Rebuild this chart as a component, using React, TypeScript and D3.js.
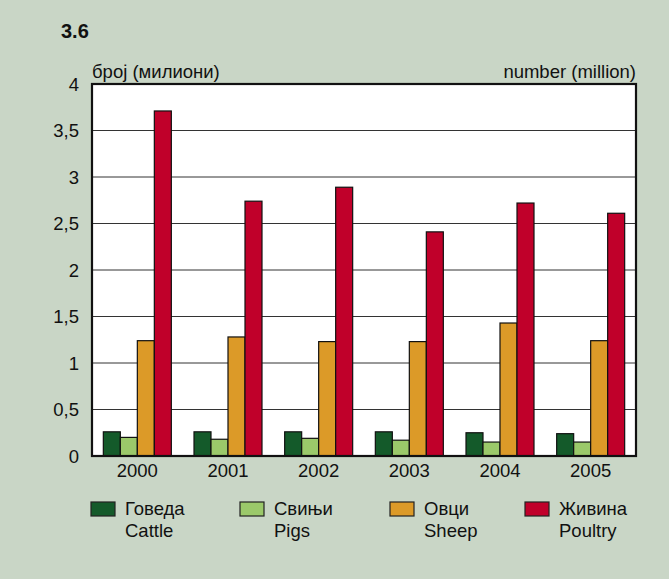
import React from "react";
import * as d3 from "d3";

const years = ["2000", "2001", "2002", "2003", "2004", "2005"];
const cattle = [0.26, 0.26, 0.26, 0.26, 0.25, 0.24];
const pigs = [0.2, 0.18, 0.19, 0.17, 0.15, 0.15];
const sheep = [1.24, 1.28, 1.23, 1.23, 1.43, 1.24];
const poultry = [3.71, 2.74, 2.89, 2.41, 2.72, 2.61];
const seriesNames = [
  ["Говеда", "Cattle"],
  ["Свињи", "Pigs"],
  ["Овци", "Sheep"],
  ["Живина", "Poultry"],
];
const colors = ["#145a2a", "#9bc96a", "#dc9a28", "#c0002a"];
const yTicks = [0, 0.5, 1, 1.5, 2, 2.5, 3, 3.5, 4];

export default function App() {
  const W = 669, H = 579;
  const left = 92, right = 636, top = 84, bottom = 456;
  const series = [cattle, pigs, sheep, poultry];
  const x0 = d3.scaleBand().domain(years).range([left, right]).paddingInner(0.25).paddingOuter(0.125);
  const x1 = d3.scaleBand().domain(["0", "1", "2", "3"]).range([0, x0.bandwidth()]);
  const y = d3.scaleLinear().domain([0, 4]).range([bottom, top]);
  const font = "'Liberation Sans', Arial, sans-serif";
  const legendX = [91, 240, 390, 525];
  const fs = 18.5;
  return (
    <div style={{ position: "fixed", left: 0, top: 0 }}>
      <svg width={W} height={H} style={{ display: "block", fontFamily: font }}>
        <rect x={0} y={0} width={W} height={H} fill="#c9d6c6" />
        <text x={61} y={38} fontSize={20} fontWeight="bold" fill="#111">3.6</text>
        <text x={left} y={78} fontSize={fs} fill="#111">број (милиони)</text>
        <text x={right} y={78} fontSize={fs} fill="#111" textAnchor="end">number (million)</text>
        <rect x={left} y={top} width={right - left} height={bottom - top} fill="#fff" />
        {yTicks.map((t) => (
          <g key={t}>
            {t > 0 && t < 4 && (
              <line x1={left} x2={right} y1={y(t)} y2={y(t)} stroke="#333" strokeWidth={1} />
            )}
            <text x={79} y={y(t) + 6.5} fontSize={fs} textAnchor="end" fill="#111">
              {String(t).replace(".", ",")}
            </text>
          </g>
        ))}
        {years.map((yr, i) => (
          <g key={yr}>
            {series.map((s, j) => (
              <rect
                key={j}
                x={(x0(yr) as number) + (x1(String(j)) as number)}
                y={y(s[i])}
                width={x1.bandwidth()}
                height={bottom - y(s[i])}
                fill={colors[j]}
                stroke="#111"
                strokeWidth={1.2}
              />
            ))}
            <text x={(x0(yr) as number) + x0.bandwidth() / 2} y={477} fontSize={fs} textAnchor="middle" fill="#111">
              {yr}
            </text>
          </g>
        ))}
        <rect x={left} y={top} width={right - left} height={bottom - top} fill="none" stroke="#111" strokeWidth={2.2} />
        {seriesNames.map((n, j) => (
          <g key={j}>
            <rect x={legendX[j]} y={502} width={24} height={14} fill={colors[j]} stroke="#222" strokeWidth={1.2} />
            <text x={legendX[j] + 34} y={515} fontSize={fs} fill="#111">{n[0]}</text>
            <text x={legendX[j] + 34} y={537} fontSize={fs} fill="#111">{n[1]}</text>
          </g>
        ))}
      </svg>
    </div>
  );
}
